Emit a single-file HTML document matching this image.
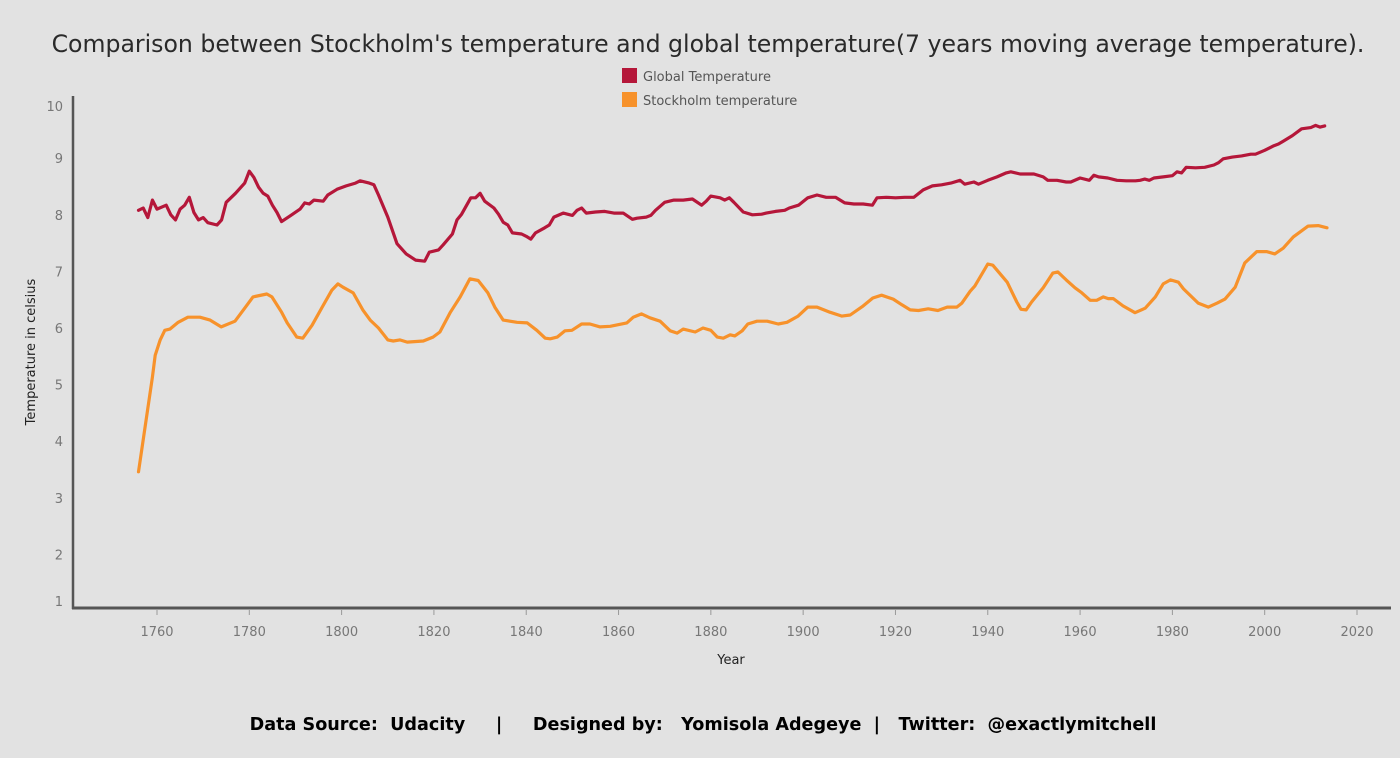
<!DOCTYPE html>
<html><head><meta charset="utf-8"><style>
body{margin:0;background:#e2e2e2;width:1400px;height:758px;overflow:hidden;font-family:"Liberation Sans","DejaVu Sans",sans-serif}
</style></head><body>
<svg width="1400" height="758" style="position:absolute;left:0;top:0">
<rect width="1400" height="758" fill="#e2e2e2"/>
<text x="708" y="52" text-anchor="middle" font-family="DejaVu Sans, sans-serif" font-size="23.6" fill="#2a2a2a">Comparison between Stockholm's temperature and global temperature(7 years moving average temperature).</text>
<g font-family="DejaVu Sans, sans-serif" font-size="13" fill="#555">
<g><rect x="622" y="68" width="15" height="15" fill="#b5173a"/><text x="643" y="81">Global Temperature</text></g>
<g><rect x="622" y="92" width="15" height="15" fill="#f7922b"/><text x="643" y="105">Stockholm temperature</text></g>
</g>
<g id="axes"></g>
<g id="marks"></g>
<text x="731" y="664" text-anchor="middle" font-family="DejaVu Sans, sans-serif" font-size="13" fill="#222">Year</text>
<text transform="translate(35,352) rotate(-90)" text-anchor="middle" font-family="DejaVu Sans, sans-serif" font-size="13" fill="#222">Temperature in celsius</text>
<text x="703" y="730" text-anchor="middle" font-family="DejaVu Sans, sans-serif" font-size="17.6" font-weight="bold" fill="#000" xml:space="preserve">Data Source:  Udacity     |     Designed by:   Yomisola Adegeye  |   Twitter:  @exactlymitchell</text>
</svg>
<script>
const globalYears=[1756,1757,1758,1759,1760,1762,1763,1764,1765,1766,1767,1768,1769,1770,1771,1773,1774,1775,1777,1779,1780,1781,1782,1783,1784,1785,1786,1787,1789,1791,1792,1793,1794,1796,1797,1799,1801,1803,1804,1806,1807,1808,1810,1812,1814,1816,1818,1819,1821,1822,1824,1825,1826,1828,1829,1830,1831,1833,1834,1835,1836,1837,1839,1840,1841,1842,1844,1845,1846,1848,1850,1851,1852,1853,1855,1857,1859,1861,1863,1864,1866,1867,1868,1870,1872,1874,1876,1878,1879,1880,1882,1883,1884,1885,1887,1889,1891,1892,1894,1896,1897,1899,1901,1903,1905,1907,1909,1911,1913,1915,1916,1918,1920,1922,1924,1926,1928,1930,1932,1934,1935,1937,1938,1940,1942,1944,1945,1947,1950,1952,1953,1955,1957,1958,1960,1962,1963,1964,1966,1968,1970,1972,1973,1974,1975,1976,1978,1980,1981,1982,1983,1985,1987,1989,1990,1991,1993,1995,1997,1998,2000,2002,2003,2004,2006,2008,2010,2011,2012,2013];
const globalTemps=[8.08,8.12,7.95,8.26,8.10,8.17,8.00,7.91,8.10,8.17,8.31,8.04,7.91,7.95,7.86,7.82,7.91,8.22,8.38,8.56,8.77,8.66,8.49,8.38,8.33,8.17,8.04,7.88,7.99,8.10,8.21,8.19,8.26,8.24,8.35,8.45,8.51,8.56,8.60,8.56,8.53,8.35,7.96,7.49,7.31,7.20,7.18,7.34,7.38,7.47,7.66,7.91,8.01,8.30,8.30,8.38,8.24,8.12,8.01,7.87,7.82,7.68,7.66,7.62,7.57,7.68,7.77,7.82,7.96,8.03,7.99,8.08,8.12,8.03,8.05,8.06,8.03,8.03,7.92,7.94,7.96,7.99,8.08,8.22,8.26,8.26,8.28,8.17,8.24,8.33,8.30,8.26,8.30,8.22,8.05,8.00,8.01,8.03,8.06,8.08,8.12,8.17,8.30,8.35,8.31,8.31,8.21,8.19,8.19,8.17,8.30,8.31,8.30,8.31,8.31,8.44,8.51,8.53,8.56,8.61,8.54,8.58,8.54,8.61,8.67,8.74,8.76,8.72,8.72,8.67,8.61,8.61,8.58,8.58,8.65,8.61,8.70,8.67,8.65,8.61,8.60,8.60,8.61,8.63,8.61,8.65,8.67,8.69,8.76,8.74,8.84,8.83,8.84,8.88,8.92,8.99,9.02,9.04,9.07,9.07,9.14,9.22,9.25,9.30,9.40,9.52,9.54,9.58,9.55,9.57];
const stockYears=[1756,1759,1759.6,1760.7,1761.7,1762.8,1764.6,1766.7,1769.3,1771.5,1773.9,1776.9,1779,1780.8,1783.8,1784.9,1787,1788.2,1790.3,1791.6,1793.6,1795.8,1797.9,1799.2,1800.3,1802.5,1804.6,1806.2,1808,1810,1811.2,1812.6,1814.2,1817.7,1819.8,1821.3,1823.5,1825.7,1827.8,1829.6,1831.7,1833.2,1835,1838,1840.2,1842.3,1844.1,1845.2,1846.7,1848.4,1849.9,1852,1853.8,1856,1858.2,1861.8,1863.2,1865,1866.8,1869,1871.2,1872.7,1874,1876.6,1878.3,1880,1881.4,1882.7,1884.2,1885.2,1886.8,1888,1890,1892.2,1894.6,1896.5,1898.9,1901,1903,1905.8,1908.4,1910.2,1913,1915.1,1917,1919.5,1921.4,1923.2,1925,1927.1,1929.2,1931.2,1933.3,1934.4,1936.2,1937.2,1940,1941.1,1944.2,1946.3,1947.2,1948.3,1949.5,1952,1954.1,1955.2,1957,1958.9,1960.4,1962.2,1963.6,1965,1966.1,1967.2,1969.3,1971.9,1974.1,1976.3,1978,1979.6,1981.3,1982.4,1985.6,1987.8,1989.7,1991.4,1993.6,1995.7,1998.3,2000.4,2002.2,2004,2006.2,2009.4,2011.6,2013.5];
const stockTemps=[3.46,5.13,5.52,5.79,5.96,5.98,6.10,6.19,6.19,6.14,6.02,6.12,6.35,6.55,6.60,6.55,6.28,6.09,5.84,5.82,6.05,6.37,6.67,6.78,6.72,6.62,6.32,6.14,6.00,5.79,5.77,5.79,5.75,5.77,5.84,5.93,6.27,6.55,6.87,6.84,6.62,6.37,6.14,6.10,6.09,5.96,5.82,5.81,5.84,5.95,5.96,6.07,6.07,6.02,6.03,6.09,6.19,6.25,6.18,6.12,5.95,5.91,5.98,5.93,6.00,5.96,5.84,5.82,5.88,5.86,5.95,6.07,6.12,6.12,6.07,6.10,6.21,6.37,6.37,6.28,6.21,6.23,6.39,6.53,6.58,6.51,6.41,6.32,6.31,6.34,6.31,6.37,6.37,6.44,6.65,6.74,7.13,7.11,6.81,6.46,6.33,6.32,6.46,6.71,6.97,6.99,6.85,6.71,6.62,6.49,6.49,6.55,6.52,6.52,6.39,6.27,6.35,6.55,6.78,6.85,6.81,6.69,6.44,6.37,6.44,6.51,6.72,7.15,7.35,7.35,7.31,7.41,7.61,7.80,7.81,7.77];
const yTicks=[1,2,3,4,5,6,7,8,9,10];
const xTicks=[1760,1780,1800,1820,1840,1860,1880,1900,1920,1940,1960,1980,2000,2020];

const NS='http://www.w3.org/2000/svg';
const xS=yr=>157+(yr-1760)*(1200/260);
const yS=v=>328-(v-6)*56.6;
function mk(tag,attrs,parent){const e=document.createElementNS(NS,tag);for(const k in attrs)e.setAttribute(k,attrs[k]);parent.appendChild(e);return e;}
const axes=document.getElementById('axes'), marks=document.getElementById('marks');
const yl=mk('line',{x1:73,y1:96,x2:73,y2:609,stroke:'#555','stroke-width':2.5},axes);


const xl=mk('line',{x1:72,y1:608,x2:1391,y2:608,stroke:'#555','stroke-width':3},axes);


yTicks.forEach(v=>{
  let yy=yS(v); if(v===10) yy=Math.max(yy,106); if(v===1) yy=Math.min(yy,601);
  const t=mk('text',{x:63,y:yy+5,'text-anchor':'end','font-size':13,fill:'#777','font-family':'DejaVu Sans, sans-serif'},axes);
  t.textContent=v;
  
  
});
xTicks.forEach(yr=>{
  const tk=mk('line',{x1:xS(yr),y1:610,x2:xS(yr),y2:615,stroke:'#999','stroke-width':1},axes);
  
  
  const t=mk('text',{x:xS(yr),y:636,'text-anchor':'middle','font-size':13,fill:'#777','font-family':'DejaVu Sans, sans-serif'},axes);
  t.textContent=yr;
  
  
});
function line(xs,ys,color,name){
  const d=xs.map((x,i)=>(i?'L':'M')+xS(x).toFixed(1)+' '+yS(ys[i]).toFixed(1)).join(' ');
  const p=mk('path',{d:d,fill:'none',stroke:color,'stroke-width':3.2,'stroke-linejoin':'round','stroke-linecap':'round'},marks);
  
  
}
line(stockYears,stockTemps,'#f7922b','stockholm-temperature-line');
line(globalYears,globalTemps,'#b5173a','global-temperature-line');
</script>
</body></html>
